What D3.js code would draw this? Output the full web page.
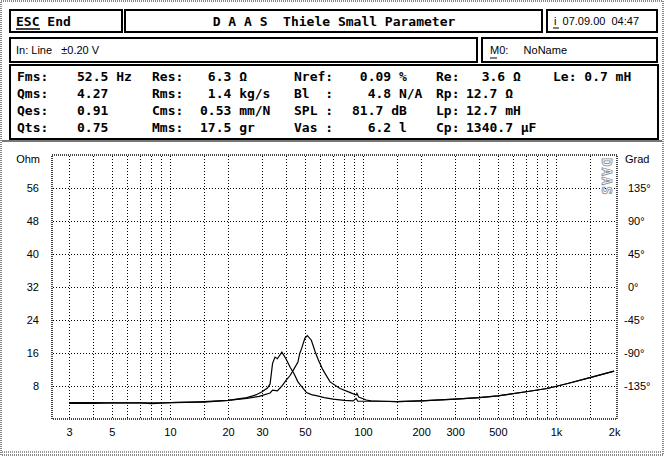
<!DOCTYPE html>
<html>
<head>
<meta charset="utf-8">
<script src="https://cdn.jsdelivr.net/npm/d3@7"></script>
<style>
  body { margin: 0; background: #fff; }
  svg { display: block; }
  .mono { font-family: "DejaVu Sans Mono", monospace; font-weight: bold; font-size: 13px; }
  .sans { font-family: "Liberation Sans", Arial, sans-serif; font-size: 11px; }
</style>
</head>
<body>
<svg id="chart" width="664" height="456"></svg>
<script>
// impedance curve with added mass (resonance around 38 Hz)
const freqA = [3, 4, 5, 7, 8, 9, 10, 15, 20, 25, 28, 30, 32, 33, 34, 35, 36, 38, 40, 42, 44, 46, 48, 51, 54, 58, 63, 70, 80, 89, 92, 94, 100, 110, 125, 150, 200, 300, 400, 500, 700, 900, 1150, 1550, 2000];
const ohmA  = [3.95, 3.95, 3.9, 3.9, 3.75, 3.85, 3.95, 4.1, 4.5, 5.2, 5.9, 6.6, 7.5, 8.5, 13.5, 15.0, 14.6, 16.2, 14.5, 12.5, 10.9, 9.0, 7.9, 6.4, 5.9, 5.6, 5.2, 4.8, 4.5, 4.4, 5.0, 4.3, 4.3, 4.3, 4.3, 4.2, 4.4, 4.8, 5.2, 5.6, 6.6, 7.4, 8.6, 10.2, 11.6];
// free air impedance curve (Fms 52.5 Hz)
const freqB = [3, 4, 5, 7, 10, 15, 20, 25, 29, 33, 34, 36, 38, 40, 42, 44, 46, 47, 48, 50, 51.5, 54, 56.5, 58.7, 62, 67.5, 76, 86, 92, 93, 95, 104, 110, 125, 150, 200, 300, 400, 500, 700, 900, 1150, 1550, 2000];
const ohmB  = [3.8, 3.8, 3.9, 3.9, 3.95, 4.2, 4.5, 5.0, 5.5, 6.3, 7.0, 6.8, 8.0, 9.4, 10.6, 12.2, 13.8, 15.9, 17.0, 19.6, 20.2, 19.1, 16.3, 14.3, 11.9, 9.0, 7.4, 6.4, 5.8, 6.2, 5.3, 4.6, 4.4, 4.3, 4.2, 4.4, 4.8, 5.2, 5.6, 6.6, 7.4, 8.6, 10.2, 11.6];

const xGrid = [3, 4, 5, 6, 7, 8, 9, 10, 15, 20, 30, 40, 50, 60, 70, 80, 90, 100, 150, 200, 300, 400, 500, 600, 700, 800, 900, 1000, 1500];
const xTicks = [3, 5, 10, 20, 30, 50, 100, 200, 300, 500, 1000, 2000];
const xTickLabels = ["3", "5", "10", "20", "30", "50", "100", "200", "300", "500", "1k", "2k"];
const ohmTicks = [8, 16, 24, 32, 40, 48, 56];
const gradTicks = [-135, -90, -45, 0, 45, 90, 135];

// header texts
const paramRows = [
  ["Fms:", "52.5 Hz", "Res:", " 6.3 Ω", "Nref:", " 0.09 %", "Re:", "  3.6 Ω", "Le: 0.7 mH"],
  ["Qms:", "4.27", "Rms:", " 1.4 kg/s", "Bl  :", "  4.8 N/A", "Rp:", "12.7 Ω", ""],
  ["Qes:", "0.91", "Cms:", "0.53 mm/N", "SPL :", "81.7 dB", "Lp:", "12.7 mH", ""],
  ["Qts:", "0.75", "Mms:", "17.5 gr", "Vas :", "  6.2 l", "Cp:", "1340.7 µF", ""]
];
const paramCols = [17, 77, 152, 200, 294, 352, 436, 466, 553];

const nb = s => s.replace(/ /g, "\u00a0");
const svg = d3.select("#chart");

// outer frame
svg.append("rect").attr("x", 1).attr("y", 1).attr("width", 662).attr("height", 454)
  .attr("fill", "none").attr("stroke", "#888").attr("stroke-width", 2).attr("stroke-dasharray", "1,1");
svg.append("line").attr("x1", 2).attr("x2", 662).attr("y1", 141).attr("y2", 141)
  .attr("stroke", "#777").attr("stroke-width", 2);
svg.append("line").attr("x1", 2).attr("x2", 662).attr("y1", 452).attr("y2", 452)
  .attr("stroke", "#999").attr("stroke-width", 2).attr("stroke-dasharray", "1,1");

function box(x, y, w, h) {
  svg.append("rect").attr("x", x).attr("y", y).attr("width", w).attr("height", h)
    .attr("fill", "none").attr("stroke", "#000").attr("stroke-width", 2);
}
box(10, 10, 112, 22);
box(125, 10, 417, 22);
box(547, 10, 110, 22);
box(10, 38, 467, 24);
box(482, 38, 175, 24);
box(10, 65, 648, 74);

svg.append("text").attr("class", "mono").attr("x", 16).attr("y", 26).text(nb("ESC End"));
svg.append("line").attr("x1", 16).attr("x2", 40).attr("y1", 29).attr("y2", 29).attr("stroke", "#000").attr("stroke-width", 1.5);
svg.append("text").attr("class", "mono").attr("x", 334).attr("y", 26).attr("text-anchor", "middle")
  .text(nb("D A A S  Thiele Small Parameter"));
svg.append("text").attr("class", "sans").attr("x", 554).attr("y", 25).text(nb("i  07.09.00  04:47"));
svg.append("line").attr("x1", 553).attr("x2", 559).attr("y1", 28).attr("y2", 28).attr("stroke", "#000");
svg.append("text").attr("class", "sans").attr("x", 16).attr("y", 54).text(nb("In: Line   ±0.20 V"));
svg.append("text").attr("class", "sans").attr("x", 490).attr("y", 54).text(nb("M0:     NoName"));
svg.append("line").attr("x1", 490).attr("x2", 497).attr("y1", 58).attr("y2", 58).attr("stroke", "#000");

paramRows.forEach(function(row, r) {
  row.forEach(function(t, c) {
    if (!t) return;
    svg.append("text").attr("class", "mono").attr("x", paramCols[c]).attr("y", 81 + r * 17).text(nb(t));
  });
});

// plot
const x = d3.scaleLog().domain([2.447, 2070]).range([52, 617]);
const y = d3.scaleLinear().domain([0, 64]).range([419, 155]);
const yPhase = d3.scaleLinear().domain([-180, 180]).range([419, 155]);

const grid = svg.append("g").attr("stroke", "#000").attr("stroke-width", 1).attr("stroke-dasharray", "1,2");
grid.selectAll(".vg").data(xGrid).enter().append("line")
  .attr("x1", d => Math.round(x(d)) + 0.5).attr("x2", d => Math.round(x(d)) + 0.5)
  .attr("y1", 156).attr("y2", 418);
grid.selectAll(".hg").data(ohmTicks).enter().append("line")
  .attr("y1", d => Math.round(y(d)) + 0.5).attr("y2", d => Math.round(y(d)) + 0.5)
  .attr("x1", 53).attr("x2", 616);

svg.append("rect").attr("x", 52).attr("y", 155).attr("width", 565).attr("height", 264)
  .attr("fill", "none").attr("stroke", "#444").attr("stroke-width", 2).attr("stroke-dasharray", "1,1");

// DAAS logo
svg.append("text").attr("transform", "translate(602,158) rotate(90)")
  .attr("font-family", "DejaVu Sans Mono, monospace").attr("font-size", 14).attr("font-weight", "bold")
  .attr("fill", "#fff").attr("stroke", "#888").attr("stroke-width", 0.8)
  .attr("letter-spacing", 1).text("DAAS");

// axes
const axisLeft = d3.axisLeft(y).tickValues(ohmTicks).tickSize(0).tickPadding(0);
svg.append("g").attr("transform", "translate(39,0)").call(axisLeft)
  .call(g => g.select(".domain").remove())
  .call(g => g.selectAll("text").attr("font-family", "Liberation Sans, Arial, sans-serif").attr("font-size", 11).attr("fill", "#000"));
svg.append("text").attr("class", "sans").attr("x", 40).attr("y", 163).attr("text-anchor", "end").text("Ohm");

const axisRight = d3.axisRight(yPhase).tickValues(gradTicks).tickSize(0).tickPadding(0)
  .tickFormat(d => d + "°");
svg.append("g").attr("transform", "translate(625,0)").call(axisRight)
  .call(g => g.select(".domain").remove())
  .call(g => g.selectAll("text").attr("font-family", "Liberation Sans, Arial, sans-serif").attr("font-size", 11).attr("fill", "#000")
    .attr("x", d => d < 0 ? -1 : 3));
svg.append("text").attr("class", "sans").attr("x", 625).attr("y", 163).text("Grad");

const axisBottom = d3.axisBottom(x).tickValues(xTicks).tickSize(0).tickPadding(0)
  .tickFormat((d, i) => xTickLabels[i]);
svg.append("g").attr("transform", "translate(0,428)").call(axisBottom)
  .call(g => g.select(".domain").remove())
  .call(g => g.selectAll("text").attr("font-family", "Liberation Sans, Arial, sans-serif").attr("font-size", 11).attr("fill", "#000"));

// curves
const line = d3.line().x(d => x(d[0])).y(d => y(d[1]));
svg.append("path").datum(freqA.map((f, i) => [f, ohmA[i]]))
  .attr("d", line).attr("fill", "none").attr("stroke", "#000").attr("stroke-width", 1.2);
svg.append("path").datum(freqB.map((f, i) => [f, ohmB[i]]))
  .attr("d", line).attr("fill", "none").attr("stroke", "#000").attr("stroke-width", 1.2);
</script>
</body>
</html>
